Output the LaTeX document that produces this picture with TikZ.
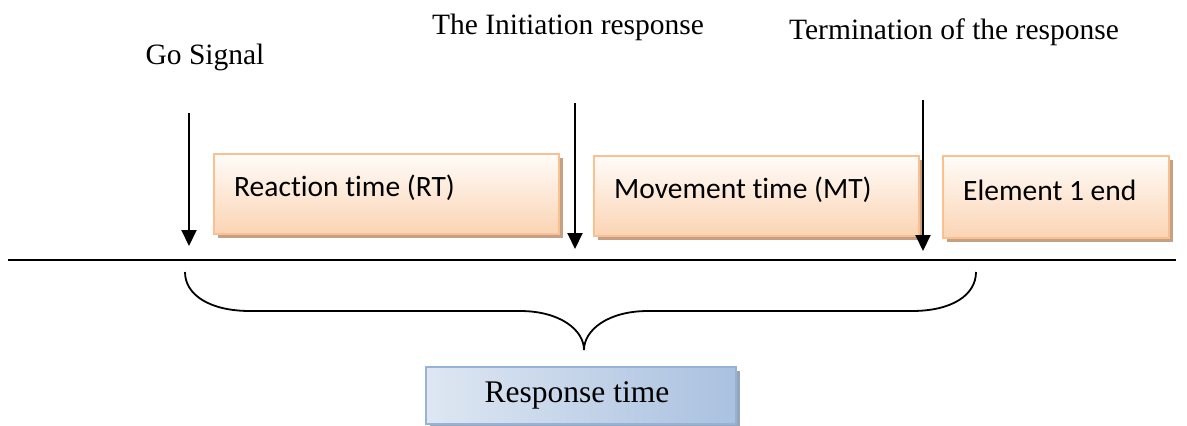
\documentclass[tikz,border=0pt]{standalone}
\usepackage{fontspec}
\setmainfont{Liberation Serif}
\newfontfamily\boxfont[Ligatures=NoCommon]{Carlito}
\usetikzlibrary{arrows.meta,shadows}
\definecolor{obord}{RGB}{250,192,144}
\definecolor{otop}{RGB}{255,252,249}
\definecolor{obot}{RGB}{251,212,180}
\definecolor{oshad}{RGB}{196,160,132}
\definecolor{bbord}{RGB}{149,179,215}
\definecolor{btop}{RGB}{222,231,242}
\definecolor{bbot}{RGB}{170,193,224}
\definecolor{bshad}{RGB}{150,165,185}
\tikzset{
  lbl/.style={font=\fontsize{29.5}{34}\selectfont, inner sep=0pt},
  boxtext/.style={anchor=west, font=\boxfont\fontsize{29.5}{34}\selectfont, inner sep=0pt},
  stagebox/.style={draw=obord, line width=1.5pt, top color=otop, bottom color=obot,
     drop shadow={shadow xshift=4pt, shadow yshift=-4pt, fill=oshad, opacity=1},
     inner sep=0pt},
  respbox/.style={draw=bbord, line width=1.5pt, left color=btop, right color=bbot,
     drop shadow={shadow xshift=4pt, shadow yshift=-4pt, fill=bshad, opacity=1},
     inner sep=0pt},
  marker/.style={line width=2pt, -{Triangle[width=15pt,length=16pt]}},
  brace/.style={line width=1.8pt},
}
\begin{document}
\begin{tikzpicture}[x=1pt,y=-1pt]
\useasboundingbox (0,0) rectangle (1187,426);
% boxes
\node[stagebox, minimum width=345pt, minimum height=80pt, anchor=north west] (rt) at (213,153) {};
\node[boxtext] (rtt) at (234,188) {Reaction time (RT)};
\node[stagebox, minimum width=325pt, minimum height=80pt, anchor=north west] (mt) at (593,155) {};
\node[boxtext] (mtt) at (614,190) {Movement time (MT)};
\node[stagebox, minimum width=226pt, minimum height=82pt, anchor=north west] (el) at (942,155) {};
\node[boxtext] (elt) at (963,190) {Element 1 end};
% labels
\node[lbl] (go) at (205,57) {Go Signal};
\node[lbl] (init) at (568,27) {The Initiation response};
\node[lbl] (term) at (954,32) {Termination of the response};
% arrows
\coordinate (a1s) at (189,113); \coordinate (a1e) at (189,246);
\coordinate (a2s) at (575,103); \coordinate (a2e) at (575,249);
\coordinate (a3s) at (923,100); \coordinate (a3e) at (923,251);
\draw[marker] (a1s) -- (a1e);
\draw[marker] (a2s) -- (a2e);
\draw[marker] (a3s) -- (a3e);
% axis
\coordinate (ls) at (8,260); \coordinate (le) at (1176,260);
\draw[line width=1.4pt] (ls) -- (le);
% brace
\coordinate (bl) at (185,272); \coordinate (br) at (976,272); \coordinate (bt) at (584,350);
\draw[brace] (bl) .. controls (185,295) and (210,311) .. (250,311)
  -- (520,311) .. controls (560,311) and (584,330) .. (bt)
  .. controls (584,330) and (608,311) .. (648,311)
  -- (912,311) .. controls (952,311) and (976,295) .. (br);
% response
\node[respbox, minimum width=310pt, minimum height=57pt, anchor=north west] (resp) at (425,366) {};
\node[font=\fontsize{31.5}{36}\selectfont, inner sep=0pt] (respt) at (577,395) {Response time};
\end{tikzpicture}
\end{document}
